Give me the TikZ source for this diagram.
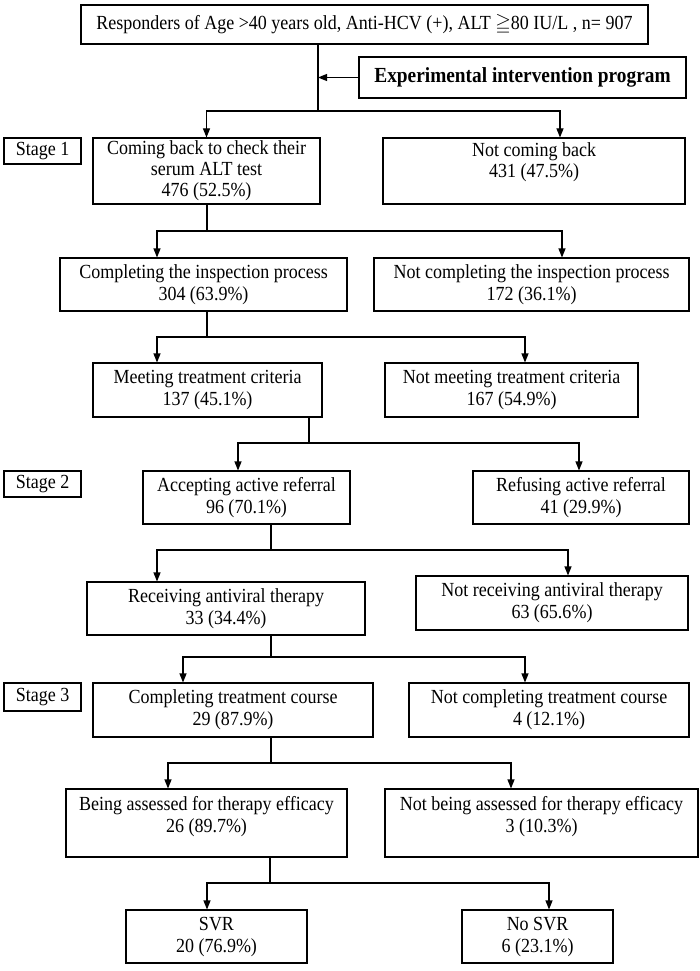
\documentclass[tikz,border=0pt]{standalone}
\usepackage{amssymb}
\usepackage{fontspec}
\setmainfont[FakeStretch=0.9]{Liberation Serif}
\usetikzlibrary{arrows.meta}

\begin{document}
\begin{tikzpicture}[x=1pt, y=-1pt, line width=1.1pt,
		box/.style={draw, rectangle, align=center, inner sep=0pt, font=\fontsize{20}{22}\selectfont},
		arr/.style={-{Triangle[length=9pt,width=7pt]}}]
				
				% page frame, pixel units from the top left
				\useasboundingbox (0,0) rectangle (700,971);
				
				% one box from its left, top, right and bottom edge: [options]{name}{l}{t}{r}{b}{text}
				\newcommand{\flowbox}[7][]{%
					\pgfmathsetmacro{\boxw}{#5-#3}
					\pgfmathsetmacro{\boxh}{#6-#4}
					\node[box, minimum width=\boxw pt, minimum height=\boxh pt, #1] (#2) at ({(#3+#5)/2},{(#4+#6)/2}) {#7};
				}
				
				% one split: parent, junction, left child + shift, right child + shift
				\newcommand{\branch}[6]{%
					\draw (#2 |- #1.south) -- (#2);
					\draw[arr] (#2) -| ([xshift=#4pt]#3.north);
					\draw[arr] (#2) -| ([xshift=#6pt]#5.north);
				}
				
				% start and intervention
				\flowbox{top}{81}{5}{648}{44}{Responders of Age >40 years old, Anti-HCV (+), ALT $\geqq$80 IU/L , n= 907}
				\flowbox[font=\fontsize{21.5}{23}\selectfont\bfseries]{expt}{359}{57}{686}{98}{Experimental intervention program}
				
				% stage labels
				\flowbox{stA}{4}{138}{81}{164}{Stage 1}
				\flowbox{stB}{4}{471}{81}{497}{Stage 2}
				\flowbox{stC}{4}{683}{81}{711}{Stage 3}
				
				% boxes, row by row
				\flowbox{back}{93}{138}{320}{204}{Coming back to check their\\[-1pt] serum ALT test\\[-1pt] 476 (52.5\%)}
				\flowbox[text depth=22pt]{noback}{383}{138}{685}{204}{Not coming back\\[-1pt] 431 (47.5\%)}
				\flowbox{insp}{60}{258}{347}{311}{Completing the inspection process\\ 304 (63.9\%)}
				\flowbox{noinsp}{374}{258}{689}{311}{Not completing the inspection process\\ 172 (36.1\%)}
				\flowbox{meet}{93}{363}{322}{417}{Meeting treatment criteria\\ 137 (45.1\%)}
				\flowbox{nomeet}{385}{363}{638}{417}{Not meeting treatment criteria\\ 167 (54.9\%)}
				\flowbox{acc}{143}{471}{350}{524}{Accepting active referral\\ 96 (70.1\%)}
				\flowbox{refu}{473}{471}{689}{524}{Refusing active referral\\ 41 (29.9\%)}
				\flowbox{recv}{87}{582}{365}{635}{Receiving antiviral therapy\\ 33 (34.4\%)}
				\flowbox{norecv}{416}{576}{688}{630}{Not receiving antiviral therapy\\ 63 (65.6\%)}
				\flowbox{course}{93}{683}{373}{737}{Completing treatment course\\ 29 (87.9\%)}
				\flowbox{nocourse}{409}{683}{689}{737}{Not completing treatment course\\ 4 (12.1\%)}
				\flowbox[text depth=18pt]{assess}{66}{789}{347}{857}{Being assessed for therapy efficacy\\ 26 (89.7\%)}
				\flowbox[text depth=18pt]{noassess}{385}{789}{698}{857}{Not being assessed for therapy efficacy\\ 3 (10.3\%)}
				\flowbox{svr}{126}{910}{307}{963}{SVR\\ 20 (76.9\%)}
				\flowbox{nosvr}{462}{910}{613}{963}{No SVR\\ 6 (23.1\%)}
				
				% junctions of the splits
				\coordinate (j1) at (318,111);
				\coordinate (j2) at (207,231);
				\coordinate (j3) at (207,337);
				\coordinate (j4) at (309,443);
				\coordinate (j5) at (271,550);
				\coordinate (j6) at (271,657);
				\coordinate (j7) at (271,763);
				\coordinate (j8) at (270,883);
				
				% connectors
				\branch{top}{j1}{back}{0}{noback}{26}
				\draw[arr] (expt.west) -- (expt.west -| j1);
				\branch{back}{j2}{insp}{-46.5}{noinsp}{30.5}
				\branch{insp}{j3}{meet}{-50.5}{nomeet}{13.5}
				\branch{meet}{j4}{acc}{-8.5}{refu}{-2}
				\branch{acc}{j5}{recv}{-69}{norecv}{16}
				\branch{recv}{j6}{course}{-50}{nocourse}{-24}
				\branch{course}{j7}{assess}{-38.5}{noassess}{-30.5}
				\branch{assess}{j8}{svr}{-9.5}{nosvr}{11.5}
				
\end{tikzpicture}
\end{document}
